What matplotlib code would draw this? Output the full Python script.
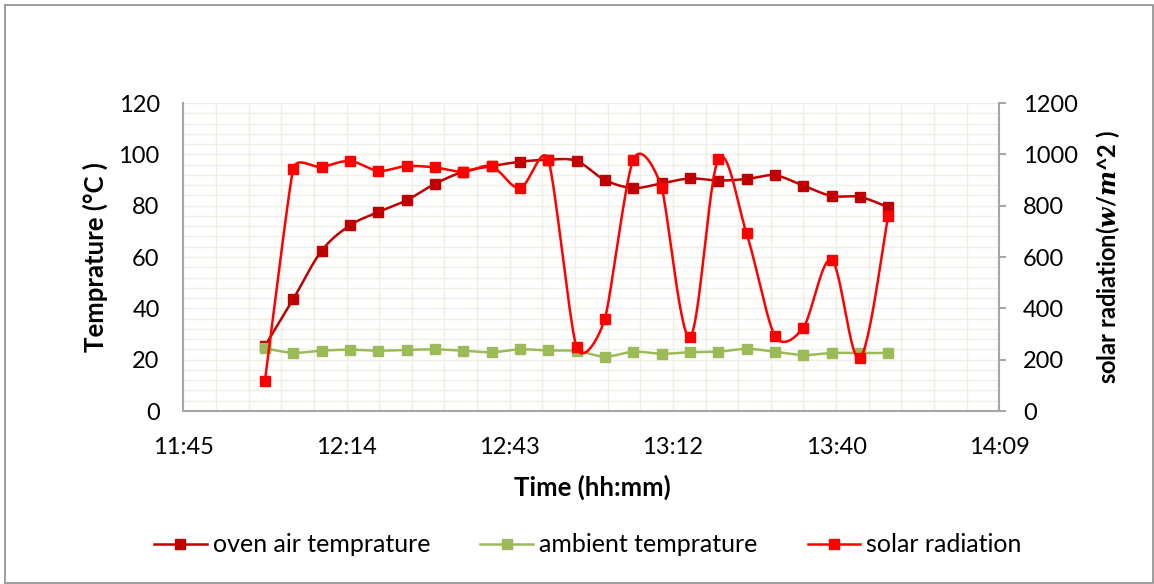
import numpy as np
import matplotlib
matplotlib.use("Agg")
import matplotlib.pyplot as plt
from matplotlib.patches import Rectangle
from matplotlib.ticker import FixedLocator, FuncFormatter
from matplotlib.lines import Line2D

# ---------------- data ----------------
times = ["12:00", "12:05", "12:10", "12:15", "12:20", "12:25", "12:30", "12:35",
         "12:40", "12:45", "12:50", "12:55", "13:00", "13:05", "13:10", "13:15",
         "13:20", "13:25", "13:30", "13:35", "13:40", "13:45", "13:50"]
oven_air = [25.3, 43.6, 62.4, 72.3, 77.5, 82.1, 88.5, 93.2, 95.4, 97.1, 97.9, 97.4,
            90.0, 86.9, 88.7, 90.6, 89.8, 90.4, 91.8, 87.8, 83.8, 83.4, 79.4]
ambient = [24.4, 22.7, 23.5, 23.9, 23.5, 23.8, 24.0, 23.5, 22.9, 24.0, 23.6, 23.4,
           21.2, 23.1, 22.3, 22.9, 23.1, 24.2, 23.1, 21.8, 22.6, 22.6, 22.6]
solar = [118, 944, 951, 974, 936, 954, 949, 932, 953, 869, 979, 249,
         360, 979, 870, 288, 980, 692, 293, 325, 589, 205, 761]

x_min_label, x_max_label = "11:45:36", "14:09:36"   # Excel axis bounds (0.49 .. 0.59 day)
x_major_min = 28.8      # 0.02 day
left_ticks = [0, 20, 40, 60, 80, 100, 120]
right_ticks = [0, 200, 400, 600, 800, 1000, 1200]

labels = ["oven air temprature", "ambient temprature", "solar radiation"]
colors = ["#C00000", "#9BBB59", "#FF0000"]


def to_min(s):
    parts = [float(p) for p in s.split(":")]
    m = parts[0] * 60 + parts[1]
    if len(parts) > 2:
        m += parts[2] / 60.0
    return m


x = np.array([to_min(t) for t in times])
xmin, xmax = to_min(x_min_label), to_min(x_max_label)


def smooth(axis, xs, ys, n=30):
    """Excel-like smoothed line (Bezier), computed in display space."""
    P = axis.transData.transform(np.column_stack([xs, ys]).astype(float))
    N = len(P)
    outc, inc = [None] * N, [None] * N
    for i in range(N):
        if i == 0:
            outc[i] = P[0] + (P[1] - P[0]) / 6.0
            continue
        if i == N - 1:
            inc[i] = P[-1] - (P[-1] - P[-2]) / 6.0
            continue
        T = P[i + 1] - P[i - 1]
        dT = np.hypot(*T)
        dp = np.hypot(*(P[i] - P[i - 1]))
        dn = np.hypot(*(P[i + 1] - P[i]))
        k = 1.0 / 6.0
        if dT > 0:
            k = min(k, 0.5 * min(dp, dn) / dT)
        outc[i] = P[i] + T * k
        inc[i] = P[i] - T * k
    t = np.linspace(0, 1, n)[1:, None]
    out = [P[0]]
    for i in range(N - 1):
        p1, c1, c2, p2 = P[i], outc[i], inc[i + 1], P[i + 1]
        seg = ((1 - t) ** 3) * p1 + 3 * ((1 - t) ** 2) * t * c1 + 3 * (1 - t) * t ** 2 * c2 + t ** 3 * p2
        out.extend(seg)
    out = axis.transData.inverted().transform(np.array(out))
    return out[:, 0], out[:, 1]


plt.rcParams['font.family'] = ['Lato', 'DejaVu Sans']
plt.rcParams['mathtext.fontset'] = 'custom'
plt.rcParams['mathtext.it'] = 'DejaVu Serif:italic:bold'
plt.rcParams['mathtext.rm'] = 'Lato:bold'

FS = 17
FT = 18.5
fig = plt.figure(figsize=(11.54, 5.84), dpi=100)
fig.patch.set_facecolor("white")
fig.patches.append(Rectangle((5 / 1154, 1 - 583 / 584), 1148 / 1154, 578 / 584,
                             transform=fig.transFigure, fill=False,
                             edgecolor="#8C8C8C", lw=1.2, zorder=0))

ax = fig.add_axes([183.3 / 1154, 1 - 411 / 584, 816 / 1154, 308 / 584])
ax2 = ax.twinx()

grid_c = "#EFEFE6"
ax.set_xlim(xmin, xmax)
ax.set_ylim(0, 120)
ax2.set_ylim(0, 1200)
ax2.set_xlim(xmin, xmax)

xt = [xmin + k * x_major_min for k in range(6)]
ax.xaxis.set_major_locator(FixedLocator(xt))
ax.xaxis.set_minor_locator(FixedLocator([xmin + k * x_major_min / 5 for k in range(31)]))
ax.xaxis.set_major_formatter(FuncFormatter(
    lambda v, p: f"{int(np.floor(v + 1e-6)) // 60}:{int(np.floor(v + 1e-6)) % 60:02d}"))
ax.set_yticks(left_ticks)
ax.set_yticks(np.arange(0, 121, 4), minor=True)
ax2.set_yticks(right_ticks)

ax.grid(True, which="both", color=grid_c, lw=1.0, zorder=0)
ax.set_axisbelow(True)

for s in ["top", "right"]:
    ax.spines[s].set_visible(False)
for s in ["top", "left", "bottom"]:
    ax2.spines[s].set_visible(False)
for sp in [ax.spines["left"], ax.spines["bottom"], ax2.spines["right"]]:
    sp.set_color("#A6A6A6")
    sp.set_linewidth(1.5)

ax.tick_params(axis="both", which="both", length=0)
ax.tick_params(axis="y", labelsize=FS, pad=17)
ax.tick_params(axis="x", labelsize=FS, pad=19)
ax2.tick_params(axis="y", which="major", length=5, width=1.5, color="#A6A6A6",
                labelsize=FS, pad=12)
ax2.tick_params(axis="y", which="minor", length=0)

lw = 1.8
ms = 7
sx, sy = smooth(ax, x, oven_air)
ax.plot(sx, sy, color=colors[0], lw=lw, zorder=3)
ax.plot(x, oven_air, ls="none", marker="s", ms=ms, color=colors[0], zorder=4)
sx, sy = smooth(ax, x, ambient)
ax.plot(sx, sy, color=colors[1], lw=lw, zorder=3)
ax.plot(x, ambient, ls="none", marker="s", ms=ms, color=colors[1], zorder=4)
sx, sy = smooth(ax2, x, solar)
ax2.plot(sx, sy, color=colors[2], lw=lw, zorder=3)
ax2.plot(x, solar, ls="none", marker="s", ms=ms, color=colors[2], zorder=4)

ax.set_xlabel("Time (hh:mm)", fontsize=FT, fontweight="bold")
ax.xaxis.set_label_coords(0.501, -0.247)
ax.xaxis.label.set_va("center")
ax.set_ylabel("Temprature (°C )", fontsize=FT, fontweight="bold")
ax.yaxis.set_label_coords(-0.108, 0.5)
ax.yaxis.label.set_va("center")
ax2.set_ylabel(r"solar radiation($w/m$^2 )", fontsize=FS, fontweight="bold")
ax2.yaxis.set_label_coords(1.133, 0.5)
ax2.yaxis.label.set_va("center")
ax2.yaxis.label.set_rotation(90)

handles = [Line2D([], [], color=c, lw=lw, marker="s", ms=ms) for c in colors]
fig.legend(handles, labels, loc="center", bbox_to_anchor=(0.5095, 1 - 545 / 584),
           ncol=3, frameon=False, fontsize=18, handlelength=2.1, handletextpad=0.25,
           columnspacing=2.0, numpoints=1)

fig.savefig("out.png", dpi=100, facecolor="white")
